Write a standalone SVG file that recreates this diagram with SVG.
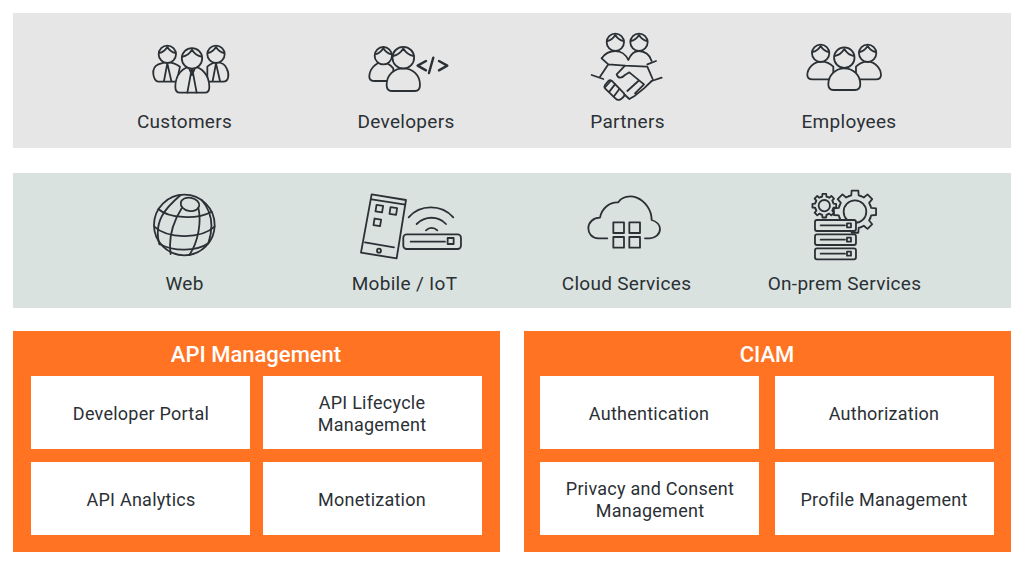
<svg xmlns="http://www.w3.org/2000/svg" width="1024" height="565" viewBox="0 0 1024 565">
<style>
text{font-family:Roboto,"Liberation Sans",sans-serif;font-size:18px;fill:#2b3035;text-anchor:middle;letter-spacing:.25px}
.l{font-size:19px;letter-spacing:.3px}
.t{fill:#fff;font-size:22px;font-weight:500;letter-spacing:0}
.o{fill:#ff7322}
.w{fill:#fff}
.s{stroke:#2b3035;stroke-width:1.8;fill:none;stroke-linecap:round;stroke-linejoin:round;vector-effect:non-scaling-stroke}
.a{fill:#e6e6e6}
.b{fill:#d9e2df}
</style>
<defs>
<g id="head">
<circle class="s" r="26" style="fill:inherit"/>
<path class="s" d="M-25 -4C-14 -6 -6 -12 0 -22C6 -12 14 -6 25 -4"/>
</g>
<path id="tooth" class="s" d="M-.298 -.72L-.175 -.76L-.156 -.988L.156 -.988L.175 -.76L.298 -.72"/>
<g id="gear">
<use href="#tooth"/><use href="#tooth" transform="rotate(45)"/><use href="#tooth" transform="rotate(90)"/><use href="#tooth" transform="rotate(135)"/><use href="#tooth" transform="rotate(180)"/><use href="#tooth" transform="rotate(225)"/><use href="#tooth" transform="rotate(270)"/><use href="#tooth" transform="rotate(315)"/>
</g>
</defs>
<rect id="band-users" x="13" y="13" width="998" height="135" fill="#e6e6e6"/>
<rect id="band-channels" x="13" y="173" width="998" height="135" fill="#d9e2df"/>

<g id="customers">
<g transform="translate(130 25) scale(.3333)" style="fill:#e6e6e6">
<path class="s a" d="M85 118C60 128 70 170 85 170H140L150 125C140 118 125 112 112 112C105 112 95 114 85 118Z"/>
<path class="s" d="M112 115L102 168M112 115L124 168"/>
<path class="s a" d="M232 125C240 118 250 112 260 112C275 112 285 118 290 130C300 150 295 170 280 170H232Z"/>
<path class="s" d="M258 115L248 168M258 115L270 168"/>
<use href="#head" transform="translate(112 88)"/>
<use href="#head" transform="translate(258 88)"/>
<path class="s a" d="M150 203H225C235 203 238 196 238 185C238 150 215 125 187 125C158 125 136 150 136 185C136 196 140 203 150 203Z"/>
<path class="s" d="M186 128L172 203M186 128L200 203M178 132L186 150L194 132"/>
<use href="#head" transform="translate(186 100) scale(1.18)"/>
</g>
<text class="l" x="184.500" y="127.500">Customers</text>
</g>

<g id="developers">
<g transform="translate(130 25) scale(.3333)" style="fill:#e6e6e6">
<path class="s a" d="M735 168H790V130C780 118 768 112 758 112C735 112 718 135 718 155C718 164 725 168 735 168Z"/>
<use href="#head" transform="translate(760 92)"/>
<path class="s a" d="M785 198H855C865 198 870 192 870 180C870 150 848 130 820 130C792 130 770 150 770 180C770 192 775 198 785 198Z"/>
<use href="#head" transform="translate(820 98) scale(1.25)"/>
<path class="s" style="stroke-width:2.4" d="M888 108L863 122L888 136M897 144L910 98M927 108L952 122L927 136"/>
</g>
<text class="l" x="406" y="127.500">Developers</text>
</g>

<g id="partners">
<g transform="translate(570 25) scale(.3333)" style="fill:#e6e6e6">
<use href="#head" transform="translate(136 52)"/>
<use href="#head" transform="translate(207 52)"/>
<path class="s" d="M95 100C105 85 120 78 136 78C152 78 168 88 175 105C182 88 192 78 207 78C225 78 240 90 245 108"/>
<path class="s" d="M95 100L115 118L165 122L230 125M258 108L232 118M115 118L90 155M65 150L100 162M232 125L248 162M275 158L245 168"/>
<path class="s" d="M165 122L140 148C145 162 155 160 165 150L178 142L222 178M245 168L222 190L195 212L178 222L165 210M222 178L195 205M205 168L172 198"/>
<path class="s a" d="M105 180L115 168C120 164 125 166 128 170L162 205C165 210 162 215 158 218L150 224C145 226 140 224 136 220L105 190C103 187 103 183 105 180Z"/>
<path class="s" d="M122 168L106 186M135 178L118 200M148 192L132 214"/>
</g>
<text class="l" x="627.500" y="127.500">Partners</text>
</g>

<g id="employees">
<g transform="translate(570 25) scale(.3333)" style="fill:#e6e6e6">
<path class="s a" d="M728 163H790V125C780 115 770 110 755 110C730 110 712 130 712 150C712 158 718 163 728 163Z"/>
<use href="#head" transform="translate(752 85)"/>
<path class="s a" d="M858 125C868 115 880 110 893 110C915 110 933 130 933 150C933 158 928 163 918 163H858Z"/>
<use href="#head" transform="translate(893 85)"/>
<path class="s a" d="M790 195H855C866 195 871 190 871 178C871 150 850 130 823 130C797 130 775 150 775 178C775 190 780 195 790 195Z"/>
<use href="#head" transform="translate(823 98) scale(1.18)"/>
</g>
<text class="l" x="849" y="127.500">Employees</text>
</g>

<g id="web">
<g transform="translate(130 185) scale(.3333)">
<circle class="s" cx="163" cy="120" r="91"/>
<ellipse class="s" cx="180" cy="58" rx="28" ry="20" transform="rotate(10 180 58)"/>
<path class="s" d="M85 72C115 100 200 105 245 80M73 125C110 160 210 165 254 125M90 178C130 200 200 200 235 175"/>
<path class="s" d="M155 70C130 110 115 160 122 207M205 68C215 110 205 170 178 210M152 30C105 70 70 110 88 178M215 45C250 85 250 130 235 175"/>
</g>
<text class="l" x="184.500" y="289.500">Web</text>
</g>

<g id="mobile-iot">
<g transform="translate(130 185) scale(.3333)">
<path class="s" d="M725 28L828 45L800 220L693 203Z"/>
<path class="s" d="M725 43L826 59M705 172L792 187"/>
<circle class="s" cx="747" cy="197" r="6"/>
<rect class="s" x="738" y="61" width="20" height="20" transform="rotate(9 748 71)"/>
<rect class="s" x="780" y="68" width="20" height="20" transform="rotate(9 790 78)"/>
<rect class="s" x="732" y="102" width="20" height="20" transform="rotate(9 742 112)"/>
<rect class="s" x="820" y="148" width="173" height="44" rx="10"/>
<path class="s" d="M842 170H945"/>
<rect class="s" x="953" y="159" width="18" height="18"/>
<path class="s" d="M836 97C870 57 935 57 970 97M860 117C885 92 925 92 948 117M888 136C898 126 912 126 922 136"/>
</g>
<text class="l" x="404.500" y="289.500">Mobile / IoT</text>
</g>

<g id="cloud-services">
<g transform="translate(570 185) scale(.3333)">
<path class="s" d="M112 160H85C65 160 55 145 55 130C55 112 70 98 90 98C95 70 120 50 145 52C155 35 180 30 200 38C225 48 245 75 245 105C262 110 270 122 270 132C270 148 255 160 240 160H225"/>
<rect class="s" x="130" y="112" width="32" height="32"/>
<rect class="s" x="178" y="112" width="32" height="32"/>
<rect class="s" x="130" y="156" width="32" height="32"/>
<rect class="s" x="178" y="156" width="32" height="32"/>
</g>
<text class="l" x="626.500" y="289.500">Cloud Services</text>
</g>

<g id="on-prem-services">
<g transform="translate(570 185) scale(.3333)">
<use href="#gear" transform="translate(763 62) scale(36)"/>
<circle class="s" cx="763" cy="62" r="17"/>
<use href="#gear" transform="translate(855 80) scale(64)"/>
<circle class="s" cx="855" cy="80" r="34"/>
<rect class="s b" x="735" y="105" width="123" height="33" rx="6"/>
<rect class="s b" x="735" y="148" width="123" height="32" rx="6"/>
<rect class="s b" x="735" y="190" width="123" height="33" rx="6"/>
<path class="s" d="M752 121H825M752 164H825M752 206H825"/>
<rect class="s" x="831" y="115" width="12" height="12"/>
<rect class="s" x="831" y="158" width="12" height="12"/>
<rect class="s" x="831" y="200" width="12" height="12"/>
</g>
<text class="l" x="844.500" y="289.500">On-prem Services</text>
</g>

<g id="api-management">
<rect class="o" x="13" y="331" width="487" height="221"/>
<text class="t" x="256" y="362">API Management</text>
</g>
<g id="developer-portal"><rect class="w" x="31" y="376" width="219" height="73"/><text x="141" y="419.500">Developer Portal</text></g>
<g id="api-lifecycle"><rect class="w" x="263" y="376" width="219" height="73"/><text x="372" y="408.500">API Lifecycle</text><text x="372" y="430.500">Management</text></g>
<g id="api-analytics"><rect class="w" x="31" y="462" width="219" height="73"/><text x="141" y="505.500">API Analytics</text></g>
<g id="monetization"><rect class="w" x="263" y="462" width="219" height="73"/><text x="372" y="505.500">Monetization</text></g>

<g id="ciam">
<rect class="o" x="524" y="331" width="487" height="221"/>
<text class="t" x="767" y="362">CIAM</text>
</g>
<g id="authentication"><rect class="w" x="540" y="376" width="219" height="73"/><text x="649" y="419.500">Authentication</text></g>
<g id="authorization"><rect class="w" x="775" y="376" width="219" height="73"/><text x="884" y="419.500">Authorization</text></g>
<g id="privacy-consent"><rect class="w" x="540" y="462" width="219" height="73"/><text x="650" y="494.500">Privacy and Consent</text><text x="650" y="516.500">Management</text></g>
<g id="profile-management"><rect class="w" x="775" y="462" width="219" height="73"/><text x="884" y="505.500">Profile Management</text></g>
</svg>
